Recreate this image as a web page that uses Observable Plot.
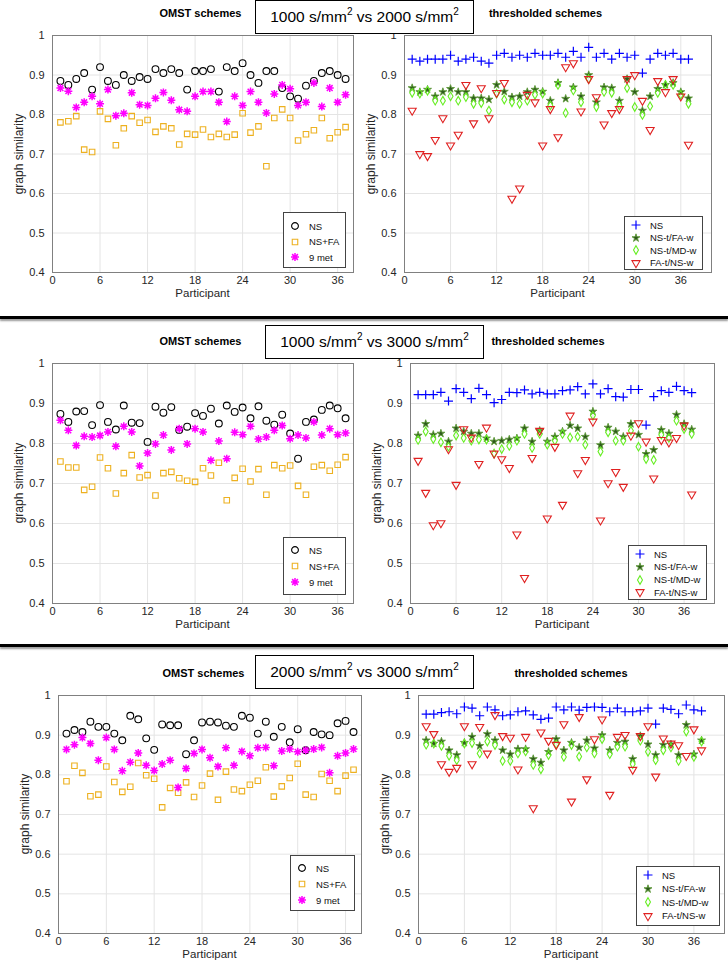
<!DOCTYPE html>
<html><head><meta charset="utf-8">
<script src="https://cdn.jsdelivr.net/npm/d3@7"></script>
<script src="https://cdn.jsdelivr.net/npm/@observablehq/plot@0.6"></script>
<style>
body{margin:0;background:#fff;font-family:"Liberation Sans",Arial,Helvetica,sans-serif;}
#root{position:relative;width:728px;height:970px;overflow:hidden;background:#fff;}
.t{position:absolute;white-space:nowrap;color:#262626;}
.legend{position:absolute;border:1px solid #444;background:#fff;box-sizing:border-box;font-size:9.5px;color:#111;}
.legend .row{position:absolute;left:0;height:12px;display:flex;align-items:center;}
.legend svg{display:block;}
.title{position:absolute;border:1.2px solid #000;background:#fff;font-size:15.5px;color:#000;text-align:center;box-sizing:border-box;z-index:5;line-height:32px;white-space:nowrap;}
.title sup{font-size:10px;line-height:0;position:relative;top:-1px;}
.sep{position:absolute;left:0;width:728px;height:3px;background:#000;box-shadow:0 2px 2px #999;}
</style></head><body><div id="root"></div>
<script>
// ---------------- data ----------------
const participants = d3.range(1, 38);
const xTicks = [0, 6, 12, 18, 24, 30, 36];
const yTicks = [0.4, 0.5, 0.6, 0.7, 0.8, 0.9, 1];
const comparisons = ["1000", "2000", "3000"];
const omstNames = ["NS", "NS+FA", "9 met"];
const thrNames = ["NS", "NS-t/FA-w", "NS-t/MD-w", "FA-t/NS-w"];

// 1000 vs 2000
const omst1_NS   = [0.885,0.875,0.89,0.905,0.863,0.92,0.885,0.875,0.9,0.885,0.895,0.89,0.915,0.905,0.915,0.905,0.863,0.91,0.91,0.915,0.858,0.92,0.91,0.93,0.9,0.88,0.91,0.91,0.867,0.846,0.84,0.873,0.885,0.905,0.91,0.9,0.89];
const omst1_NSFA = [0.780,0.783,0.796,0.711,0.705,0.808,0.789,0.722,0.765,0.796,0.779,0.786,0.756,0.770,0.765,0.724,0.751,0.749,0.762,0.743,0.751,0.743,0.749,0.803,0.754,0.770,0.669,0.791,0.813,0.791,0.734,0.750,0.760,0.791,0.740,0.755,0.768];
const omst1_9met = [0.867,0.859,0.818,0.831,0.846,0.827,0.863,0.797,0.803,0.855,0.825,0.823,0.841,0.856,0.836,0.812,0.808,0.846,0.858,0.858,0.831,0.782,0.846,0.823,0.858,0.831,0.804,0.852,0.875,0.865,0.823,0.831,0.88,0.82,0.867,0.831,0.85];
const thr1_NS  = [0.94,0.935,0.94,0.94,0.94,0.95,0.935,0.94,0.945,0.935,0.93,0.95,0.955,0.945,0.95,0.945,0.955,0.95,0.95,0.955,0.945,0.96,0.945,0.97,0.945,0.955,0.94,0.955,0.945,0.95,0.905,0.94,0.955,0.95,0.955,0.94,0.94];
const thr1_FAw = [0.867,0.857,0.863,0.846,0.857,0.865,0.857,0.857,0.841,0.841,0.838,0.875,0.858,0.844,0.846,0.857,0.863,0.858,0.835,0.88,0.840,0.869,0.846,0.9,0.831,0.869,0.867,0.835,0.89,0.857,0.810,0.846,0.865,0.875,0.88,0.857,0.841];
const thr1_MDw = [0.855,0.853,0.86,0.835,0.835,0.846,0.835,0.844,0.827,0.829,0.81,0.853,0.838,0.831,0.827,0.835,0.85,0.853,0.823,0.875,0.804,0.861,0.831,0.89,0.819,0.857,0.855,0.823,0.867,0.819,0.799,0.821,0.855,0.875,0.875,0.85,0.827];
const thr1_FAt = [0.810,0.700,0.695,0.736,0.791,0.722,0.749,0.875,0.778,0.867,0.791,0.855,0.88,0.587,0.613,0.850,0.831,0.722,0.814,0.743,0.92,0.93,0.808,0.89,0.844,0.775,0.804,0.814,0.89,0.9,0.835,0.761,0.885,0.857,0.89,0.846,0.724];

// 1000 vs 3000
const omst2_NS   = [0.874,0.854,0.880,0.881,0.846,0.896,0.854,0.835,0.895,0.852,0.851,0.804,0.892,0.877,0.891,0.834,0.842,0.876,0.869,0.887,0.850,0.895,0.879,0.890,0.863,0.893,0.857,0.847,0.872,0.825,0.762,0.854,0.860,0.884,0.895,0.888,0.863];
const omst2_NSFA = [0.755,0.740,0.740,0.684,0.692,0.765,0.738,0.675,0.726,0.771,0.715,0.721,0.670,0.726,0.729,0.713,0.707,0.704,0.738,0.720,0.752,0.658,0.714,0.737,0.705,0.736,0.672,0.746,0.738,0.745,0.694,0.672,0.742,0.746,0.732,0.747,0.766];
const omst2_9met = [0.858,0.833,0.795,0.818,0.816,0.820,0.829,0.793,0.843,0.829,0.744,0.776,0.799,0.821,0.784,0.837,0.799,0.837,0.829,0.758,0.806,0.762,0.828,0.822,0.843,0.811,0.816,0.833,0.845,0.812,0.821,0.814,0.854,0.821,0.837,0.822,0.826];
const thr2_NS  = [0.922,0.922,0.922,0.928,0.906,0.937,0.928,0.912,0.938,0.922,0.902,0.910,0.928,0.927,0.934,0.924,0.928,0.924,0.924,0.932,0.934,0.942,0.924,0.949,0.924,0.937,0.917,0.916,0.935,0.935,0.846,0.917,0.932,0.928,0.943,0.932,0.927];
const thr2_FAw = [0.820,0.849,0.822,0.825,0.805,0.838,0.830,0.825,0.825,0.813,0.805,0.807,0.810,0.813,0.838,0.805,0.832,0.805,0.817,0.830,0.845,0.838,0.817,0.880,0.796,0.840,0.830,0.817,0.849,0.822,0.774,0.784,0.834,0.825,0.872,0.849,0.835];
const thr2_MDw = [0.809,0.830,0.811,0.803,0.792,0.820,0.814,0.807,0.810,0.810,0.775,0.786,0.794,0.807,0.824,0.789,0.824,0.797,0.807,0.824,0.815,0.817,0.797,0.870,0.780,0.828,0.807,0.807,0.832,0.792,0.761,0.759,0.822,0.814,0.857,0.836,0.824];
const thr2_FAt = [0.757,0.677,0.596,0.601,0.786,0.697,0.836,0.815,0.749,0.840,0.775,0.761,0.739,0.573,0.464,0.764,0.832,0.613,0.792,0.647,0.870,0.726,0.759,0.855,0.608,0.701,0.729,0.692,0.820,0.851,0.805,0.713,0.809,0.803,0.814,0.845,0.673];

// 2000 vs 3000
const omst3_NS   = [0.904,0.913,0.908,0.934,0.921,0.921,0.904,0.887,0.949,0.940,0.892,0.863,0.927,0.925,0.925,0.852,0.887,0.932,0.934,0.932,0.924,0.921,0.949,0.944,0.904,0.934,0.896,0.921,0.882,0.915,0.862,0.908,0.902,0.900,0.930,0.936,0.908];
const omst3_NSFA = [0.784,0.823,0.805,0.746,0.750,0.821,0.782,0.757,0.770,0.830,0.799,0.790,0.718,0.767,0.755,0.781,0.744,0.773,0.803,0.737,0.808,0.763,0.759,0.775,0.785,0.819,0.745,0.771,0.792,0.828,0.750,0.744,0.802,0.785,0.759,0.798,0.813];
const omst3_9met = [0.864,0.876,0.894,0.879,0.837,0.894,0.864,0.810,0.832,0.855,0.824,0.811,0.827,0.837,0.768,0.816,0.854,0.864,0.843,0.821,0.868,0.824,0.859,0.848,0.868,0.869,0.823,0.860,0.865,0.858,0.862,0.865,0.869,0.805,0.848,0.855,0.865];
const thr3_NS  = [0.953,0.953,0.957,0.959,0.954,0.971,0.968,0.949,0.971,0.964,0.949,0.951,0.959,0.961,0.951,0.940,0.943,0.971,0.964,0.971,0.963,0.970,0.971,0.970,0.959,0.968,0.959,0.959,0.961,0.968,0.928,0.968,0.965,0.954,0.976,0.964,0.961];
const thr3_FAw = [0.887,0.879,0.884,0.862,0.850,0.881,0.896,0.873,0.903,0.887,0.862,0.852,0.865,0.865,0.840,0.831,0.858,0.890,0.862,0.881,0.869,0.887,0.867,0.900,0.862,0.881,0.884,0.840,0.898,0.877,0.850,0.876,0.877,0.850,0.926,0.852,0.887];
const thr3_MDw = [0.876,0.879,0.873,0.848,0.837,0.879,0.880,0.854,0.884,0.875,0.835,0.835,0.854,0.859,0.825,0.814,0.850,0.877,0.845,0.875,0.846,0.869,0.854,0.890,0.852,0.871,0.871,0.827,0.886,0.858,0.837,0.862,0.869,0.835,0.909,0.845,0.884];
const thr3_FAt = [0.923,0.903,0.827,0.808,0.818,0.923,0.827,0.921,0.854,0.951,0.898,0.894,0.814,0.896,0.716,0.907,0.886,0.876,0.928,0.733,0.946,0.789,0.890,0.940,0.750,0.896,0.901,0.813,0.898,0.923,0.796,0.892,0.879,0.875,0.848,0.915,0.862];

// ---------------- symbols & styles ----------------
const matlabStar = { draw(ctx, size) { const r = Math.sqrt(size / Math.PI), d = r * 0.72;
  ctx.moveTo(-r, 0); ctx.lineTo(r, 0); ctx.moveTo(0, -r); ctx.lineTo(0, r);
  ctx.moveTo(-d, -d); ctx.lineTo(d, d); ctx.moveTo(-d, d); ctx.lineTo(d, -d); } };
const triDown = { draw(ctx, size) { const y = Math.sqrt(size / (Math.sqrt(3) * 3));
  ctx.moveTo(0, 2 * y); ctx.lineTo(-Math.sqrt(3) * y, -y); ctx.lineTo(Math.sqrt(3) * y, -y); ctx.closePath(); } };

const omstStyles = [
  {symbol: "circle", r: 3.4, stroke: "#000000", fill: "none", strokeWidth: 1.1},
  {symbol: "square", r: 3.1, stroke: "#EDB120", fill: "none", strokeWidth: 1.1},
  {symbol: matlabStar, r: 4.0, stroke: "#FF00FF", fill: "none", strokeWidth: 1.5}
];
const thrStyles = [
  {symbol: "plus", r: 3.0, stroke: "#0000FF", fill: "none", strokeWidth: 1.2},
  {symbol: "star", r: 2.5, stroke: "#5f9a3a", fill: "#2e5a1c", strokeWidth: 0.9},
  {symbol: "diamond", r: 2.6, stroke: "#66EE22", fill: "none", strokeWidth: 1.1},
  {symbol: triDown, r: 3.0, stroke: "#E02020", fill: "none", strokeWidth: 1.1}
];

const root = document.getElementById("root");
function addText(html, cls, style) { const d = document.createElement("div"); d.className = cls; d.innerHTML = html; Object.assign(d.style, style); root.appendChild(d); return d; }

function drawPanel(cfg) {
  const marks = [
    Plot.ruleX(xTicks, {stroke: "#e4e4e4", strokeWidth: 1}),
    Plot.ruleY(yTicks, {stroke: "#e4e4e4", strokeWidth: 1}),
    Plot.frame({stroke: "#808080", strokeWidth: 1})
  ];
  cfg.series.forEach((vals, k) => {
    const st = cfg.styles[k];
    const data = participants.map((p, i) => ({p, v: vals[i]}));
    marks.push(Plot.dot(data, {x: "p", y: "v", ...st}));
  });
  const svg = Plot.plot({
    width: cfg.w, height: cfg.h,
    marginLeft: cfg.ml, marginRight: cfg.mr, marginTop: cfg.mt, marginBottom: cfg.mb,
    x: {domain: [0, cfg.xMax], ticks: xTicks, tickSize: 0, tickPadding: 4, label: null},
    y: {domain: [0.4, 1], ticks: yTicks, tickSize: 0, tickPadding: 8, tickFormat: d3.format("~g"), label: null},
    style: {fontFamily: "'Liberation Sans', Arial, sans-serif", fontSize: "11px", color: "#262626", background: "transparent", overflow: "visible"},
    marks
  });
  svg.style.position = "absolute"; svg.style.left = cfg.left + "px"; svg.style.top = cfg.top + "px";
  root.appendChild(svg);
  // axis labels
  const fx0 = cfg.left + cfg.ml, fx1 = cfg.left + cfg.w - cfg.mr;
  const fy0 = cfg.top + cfg.mt, fy1 = cfg.top + cfg.h - cfg.mb;
  addText("Participant", "t", {left: ((fx0 + fx1) / 2) + "px", top: (fy1 + 21) + "px", fontSize: "11.5px", transform: "translate(-50%,-50%)"});
  addText("graph similarity", "t", {left: (fx0 - 33) + "px", top: ((fy0 + fy1) / 2) + "px", fontSize: "12px", transform: "translate(-50%,-50%) rotate(-90deg)"});
  addText(cfg.title, "t", {left: ((fx0 + fx1) / 2 + (cfg.titleDx || 0)) + "px", top: (fy0 - 22) + "px", fontSize: "11px", fontWeight: "bold", color: "#000", transform: "translate(-50%,-50%)"});
  // legend
  const L = cfg.legend;
  const lg = document.createElement("div"); lg.className = "legend";
  Object.assign(lg.style, {left: L.x + "px", top: L.y + "px", width: L.w + "px", height: L.h + "px"});
  cfg.names.forEach((name, k) => {
    const st = cfg.styles[k];
    const row = document.createElement("div"); row.className = "row";
    row.style.top = (L.pad + k * L.dy - 6) + "px";
    const s = d3.create("svg").attr("width", 22).attr("height", 12);
    const symType = typeof st.symbol === "string" ? d3["symbol" + st.symbol[0].toUpperCase() + st.symbol.slice(1)] : st.symbol;
    s.append("path").attr("d", d3.symbol(symType, Math.PI * st.r * st.r)()).attr("transform", "translate(11,6)")
      .attr("fill", st.fill).attr("stroke", st.stroke).attr("stroke-width", st.strokeWidth);
    row.appendChild(s.node());
    const tx = document.createElement("span"); tx.textContent = name; tx.style.marginLeft = "3px";
    row.appendChild(tx);
    lg.appendChild(row);
  });
  root.appendChild(lg);
}

const rows = [
  {top: 22, h: 283, mt: 13, mb: 33, rightMl: 40, rightMr: 17, leftMl: 52, leftMr: 11, boxY: 0, boxX: 255, dxL: -2, dxR: -12,
   omst: [omst1_NS, omst1_NSFA, omst1_9met], thr: [thr1_NS, thr1_FAw, thr1_MDw, thr1_FAt],
   legL: {x: 283, y: 212, w: 63, h: 56, pad: 13, dy: 15.5}, legR: {x: 624, y: 216, w: 79, h: 54, pad: 8, dy: 12.6},
   a: 0, b: 1},
  {top: 350, h: 285, mt: 13, mb: 32, rightMl: 46, rightMr: 14, leftMl: 52, leftMr: 11, boxY: 325, boxX: 265, dxL: -2, dxR: -14,
   omst: [omst2_NS, omst2_NSFA, omst2_9met], thr: [thr2_NS, thr2_FAw, thr2_MDw, thr2_FAt],
   legL: {x: 283, y: 537, w: 63, h: 58, pad: 12, dy: 16}, legR: {x: 628, y: 545, w: 79, h: 55, pad: 8, dy: 12.8},
   a: 0, b: 2},
  {top: 682, h: 288, mt: 13, mb: 37, rightMl: 54, rightMr: 4, leftMl: 58, leftMr: 3, boxY: 655, boxX: 255, dxL: -6, dxR: 0,
   omst: [omst3_NS, omst3_NSFA, omst3_9met], thr: [thr3_NS, thr3_FAw, thr3_MDw, thr3_FAt],
   legL: {x: 290, y: 855, w: 65, h: 56, pad: 12, dy: 16}, legR: {x: 636, y: 866, w: 84, h: 60, pad: 8, dy: 13.5},
   a: 1, b: 2}
];

rows.forEach(r => {
  drawPanel({left: 0, top: r.top, w: 364, h: r.h, ml: r.leftMl, mr: r.leftMr, mt: r.mt, mb: r.mb, xMax: 38, titleDx: r.dxL,
    series: r.omst, styles: omstStyles, names: omstNames, title: "OMST schemes", legend: r.legL});
  drawPanel({left: 364, top: r.top, w: 364, h: r.h, ml: r.rightMl, mr: r.rightMr, mt: r.mt, mb: r.mb, xMax: 40, titleDx: r.dxR,
    series: r.thr, styles: thrStyles, names: thrNames, title: "thresholded schemes", legend: r.legR});
  const tb = document.createElement("div"); tb.className = "title";
  tb.innerHTML = `<span>${comparisons[r.a]} s/mm<sup>2</sup>&nbsp;vs ${comparisons[r.b]} s/mm<sup>2</sup></span>`;
  Object.assign(tb.style, {left: r.boxX + "px", top: r.boxY + "px", width: "219px", height: "34px"});
  root.appendChild(tb);
});
[316, 644].forEach(y => { const s = document.createElement("div"); s.className = "sep"; s.style.top = y + "px"; root.appendChild(s); });
</script></body></html>
